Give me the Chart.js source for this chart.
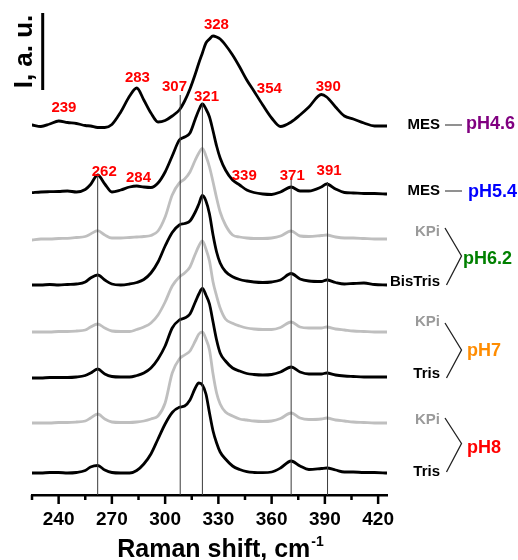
<!DOCTYPE html>
<html>
<head>
<meta charset="utf-8">
<script src="https://cdn.jsdelivr.net/npm/chart.js@4.4.1/dist/chart.umd.min.js"></script>
<style>
  html, body { margin: 0; padding: 0; background: #fff; }
  #wrap { width: 518px; height: 560px; }
</style>
</head>
<body>
<div id="wrap"><canvas id="raman" width="518" height="560"></canvas></div>
<script>
// Raman shift grid (cm-1) shared by all spectra
const wavenumbers = [225,230,235,240,245,250,255,258,262,266,270,275,280,284,288,292,296,300,304,308,311,314,317,319,321,323,325,327,329,331,334,338,342,346,350,355,360,365,371,376,381,388,391,396,401,406,412,418,425];

// intensities (a.u., baseline removed), top to bottom
const mesPH46 = [1,-0.5,2,5,3.5,2.5,0.5,0,-1.5,-1.5,1.5,14,30,38,26,13,4,5.5,10,16,25,37,52,63,73,83,87,90,89,87,81,71,59,46,35,21,8,-0.5,4,11,19,31.5,29,19,10,7,3,0,0];
const mesPH54 = [0.3,1,1.3,1.5,2,1,3.5,8.5,18,9,1,3,6,7,6,5.5,10,21,37,53,56,60,74,83,89,84,76,62,47,35,23,13,8,3,0.5,-1,-1.5,1,6,2,2,6,9,4,0.5,0,-0.5,-0.5,-1];
const kpiPH62 = [-1,0,0,0.5,0.7,1.5,2.5,5,8.3,4,1,1,1.5,2,2.5,3.5,8,22,44,56,60,67,79,86,90.7,83,72,57,41,27,14,4,2,1,0.5,0.5,1,3,8,3,2.5,3.5,4,2,1,1,0.5,0,0];
const bisTrisPH62 = [0,0,0.5,0,0.5,1,3,7,10,5,1,0,1,2.5,5.5,12,23,39,52.5,60,61.5,64,73,81,89.5,84,71,50,33,22,13.5,8.3,5.5,4,3,2.5,3,5,11.5,6,4,3.5,5,2.5,1,1.5,2,0.5,0];
const kpiPH7 = [0,0,0,0.5,0.5,1,2,5,8,4,1,0.5,0.5,2.5,5,9,17,30,46,55,59,65,78,86,91,83,71,50,36,24,13,8.7,6,4,3,2.5,2.5,4.5,10,5,4,4,5,3,2,1,0.5,0,0];
const trisPH7 = [0,0,0.5,0.5,0.5,1,2.5,5,9,4,1.5,1,1,2.5,5,10,19,32,50,58,60,64,76,84,89.5,83,74,56,38,25,17,10,7,4.5,3.5,3,3.5,6,11,6,4,4,5,3,2,1.5,1,1,1];
const kpiPH8 = [0,0,0,0.5,0.5,1,2,5,9,4,1,0.5,0.5,1,2,4,7,20,50,64,68,72,82,89,91,84,73,49,30,19,11,7,4,3,2,1.5,2,4.5,10,5,3.5,4,5,3,2,1,0.5,0,0];
const trisPH8 = [0,0,0.5,0.5,0,0.5,2.5,6,7.5,3,0.5,0,0,2.5,9,19,34,49,60.5,65.7,67,73,85,90,88,79,60,42,30,21,14,7,3.5,1.3,0.5,0.3,1,5,12,7,3.5,4.5,5,3,1,1,0.5,0.5,0];

const spectra = [mesPH46, mesPH54, kpiPH62, bisTrisPH62, kpiPH7, trisPH7, kpiPH8, trisPH8];
const buffers = ['MES', 'MES', 'KPi', 'BisTris', 'KPi', 'Tris', 'KPi', 'Tris'];
// vertical stacking offset of each spectrum
const offsets = [369, 302, 256, 210, 163, 117, 72, 22];

// marked band positions and where the guide line stops
const guideX = [262, 308.5, 321, 371, 391.5];
const guideTop = [320, 400, 392, 318, 313];

// peak labels
const peakText = ['239', '283', '307', '328', '321', '354', '390', '262', '284', '339', '371', '391'];
const peakX = [243, 284.4, 305.3, 328.9, 323.3, 358.7, 391.9, 265.7, 285, 344.6, 371.6, 392.4];
const peakY = [387, 417, 408, 470, 398, 406, 408, 323, 317, 319, 319, 324];

const FONT = 'Arial, "Liberation Sans", Helvetica, sans-serif';
const BLACK = '#000000';
const GRAY_LINE = '#bfbfbf';
const GRAY_TEXT = '#9a9a9a';

const datasets = [];
guideX.forEach((gx, i) => {
    datasets.push({
        data: [{x: gx, y: 0}, {x: gx, y: guideTop[i]}],
        borderColor: '#3a3a3a',
        borderWidth: 1,
        tension: 0
    });
});
spectra.forEach((s, i) => {
    const gray = buffers[i] === 'KPi';
    datasets.push({
        label: buffers[i],
        data: wavenumbers.map((w, j) => ({x: w, y: offsets[i] + s[j]})),
        borderColor: gray ? GRAY_LINE : BLACK,
        borderWidth: 2.8,
        cubicInterpolationMode: 'monotone',
        borderJoinStyle: 'round',
        borderCapStyle: 'round'
    });
});

const decor = {
    id: 'decor',
    afterDraw(chart) {
        const ctx = chart.ctx;
        const x = chart.scales.x;
        const y = chart.scales.y;
        ctx.save();

        // tick marks, long ones at labelled values
        ctx.strokeStyle = BLACK;
        ctx.lineWidth = 2.5;
        x.ticks.forEach(t => {
            if (t.value > 420) return;
            const px = x.getPixelForValue(t.value);
            const len = t.value % 30 === 0 ? 9 : 5;
            ctx.beginPath();
            ctx.moveTo(px, y.bottom);
            ctx.lineTo(px, y.bottom + len);
            ctx.stroke();
        });

        // peak labels
        ctx.fillStyle = '#ff0000';
        ctx.font = 'bold 15px ' + FONT;
        ctx.textAlign = 'center';
        ctx.textBaseline = 'middle';
        peakText.forEach((t, i) => {
            ctx.fillText(t, x.getPixelForValue(peakX[i]), y.getPixelForValue(peakY[i]));
        });

        // buffer names
        const nameY = [125, 191, 232, 281.5, 322, 373.5, 419.5, 472];
        ctx.font = 'bold 15px ' + FONT;
        ctx.textAlign = 'right';
        buffers.forEach((b, i) => {
            ctx.fillStyle = b === 'KPi' ? GRAY_TEXT : BLACK;
            ctx.fillText(b, 440, nameY[i]);
        });

        // connectors
        ctx.strokeStyle = '#555';
        ctx.lineWidth = 1.3;
        [[125], [191]].forEach(([yy]) => {
            ctx.beginPath();
            ctx.moveTo(445, yy);
            ctx.lineTo(462, yy);
            ctx.stroke();
        });
        ctx.strokeStyle = '#222';
        [[228, 256, 285], [323, 350, 378], [418, 443.5, 472]].forEach(([a, m, b]) => {
            ctx.beginPath();
            ctx.moveTo(445, a);
            ctx.lineTo(461.5, m);
            ctx.lineTo(446.5, b);
            ctx.stroke();
        });

        // pH labels
        ctx.font = 'bold 18px ' + FONT;
        ctx.textAlign = 'left';
        [['pH4.6', '#800080', 466, 124], ['pH5.4', '#0000ff', 468, 192],
         ['pH6.2', '#008000', 463, 259], ['pH7', '#ff8c00', 467, 351],
         ['pH8', '#ff0000', 467, 448]].forEach(([t, c, px, py]) => {
            ctx.fillStyle = c;
            ctx.fillText(t, px, py);
        });

        // intensity scale bar
        ctx.strokeStyle = BLACK;
        ctx.lineWidth = 3;
        ctx.beginPath();
        ctx.moveTo(42.7, 13);
        ctx.lineTo(42.7, 90);
        ctx.stroke();
        ctx.save();
        ctx.translate(32, 51.5);
        ctx.rotate(-Math.PI / 2);
        ctx.fillStyle = BLACK;
        ctx.font = 'bold 26px ' + FONT;
        ctx.textAlign = 'center';
        ctx.textBaseline = 'alphabetic';
        ctx.fillText('I, a. u.', 0, 0);
        ctx.restore();

        // axis title with superscript
        ctx.fillStyle = BLACK;
        ctx.textBaseline = 'alphabetic';
        ctx.font = 'bold 25px ' + FONT;
        const main = 'Raman shift, cm';
        const w1 = ctx.measureText(main).width;
        ctx.font = 'bold 14px ' + FONT;
        const w2 = ctx.measureText('-1').width;
        const start = 220 - (w1 + w2) / 2;
        ctx.font = 'bold 25px ' + FONT;
        ctx.fillText(main, start, 557);
        ctx.font = 'bold 14px ' + FONT;
        ctx.fillText('-1', start + w1 + 1, 546);

        ctx.restore();
    }
};

new Chart(document.getElementById('raman'), {
    type: 'line',
    data: { datasets: datasets },
    options: {
        responsive: false,
        animation: false,
        layout: { padding: { left: 32, right: 131, top: 10, bottom: 0 } },
        plugins: { legend: { display: false }, tooltip: { enabled: false } },
        elements: { point: { radius: 0 } },
        scales: {
            x: {
                type: 'linear',
                min: 225,
                max: 425,
                afterFit: s => { s.height = 65; },
                grid: { display: true, drawOnChartArea: false, drawTicks: true, tickLength: 9, tickColor: 'rgba(0,0,0,0)' },
                border: { display: true, color: BLACK, width: 2.5 },
                ticks: {
                    stepSize: 15,
                    includeBounds: false,
                    autoSkip: false,
                    maxRotation: 0,
                    padding: 4,
                    color: BLACK,
                    font: { family: FONT, size: 19, weight: 'bold' },
                    callback: v => (v % 30 === 0 ? String(v) : '')
                }
            },
            y: { display: false, min: 0, max: 485 }
        }
    },
    plugins: [decor]
});
</script>
</body>
</html>
